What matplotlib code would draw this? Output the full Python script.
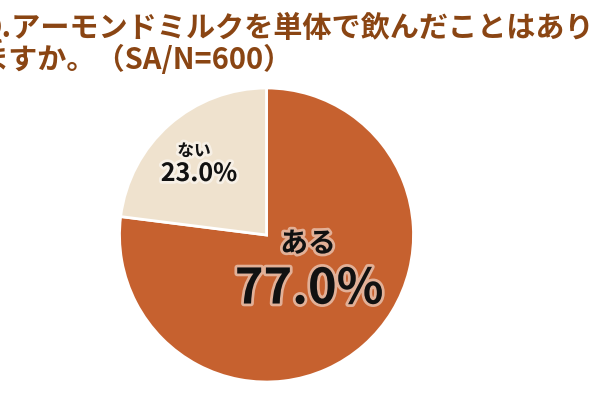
import matplotlib
matplotlib.use('Agg')
import matplotlib.pyplot as plt
import matplotlib.patheffects as pe

plt.rcParams['font.family'] = ['Noto Sans CJK JP', 'DejaVu Sans']

# data
labels = ['ある', 'ない']
values = [77.0, 23.0]
colors = ['#C6612F', '#EFE2CE']
title_lines = ['Q.アーモンドミルクを単体で飲んだことはあり',
               'ますか。（SA/N=600）']

W, H = 600, 400
fig = plt.figure(figsize=(6, 4), dpi=100)

# pie axes: center (266.5, 235) px, radius 147 px
cx, cy, r = 266.5, 235, 147
ax = fig.add_axes([(cx - r) / W, 1 - (cy + r) / H, 2 * r / W, 2 * r / H])
wedges, _ = ax.pie(values, colors=colors, startangle=90, counterclock=False,
                   radius=1.0, wedgeprops=dict(edgecolor='white', linewidth=2))
ax.set_xlim(-1, 1)
ax.set_ylim(-1, 1)
ax.set_aspect('equal')
ax.axis('off')

glow = [pe.withStroke(linewidth=4, foreground='white', alpha=0.5)]


def px(x, y):
    # figure pixel -> pie data coords
    return (x - cx) / r, (cy - y) / r


# label name / percent positions in pixels
name_xy = [(308, 244), (194, 151)]
pct_xy = [(309, 289), (199, 174)]
name_size = [20, 12]
pct_size = [35, 18]
for i, (lab, val) in enumerate(zip(labels, values)):
    ax.text(*px(*name_xy[i]), lab, ha='center', va='center', fontsize=name_size[i],
            fontweight='bold', color='#111111', path_effects=glow)
    ax.text(*px(*pct_xy[i]), f'{val:.1f}%', ha='center', va='center',
            fontsize=pct_size[i], fontweight='bold', color='#111111',
            path_effects=glow)

# title, clipped on the left like the reference
for k, line in enumerate(title_lines):
    fig.text(-21 / W, 1 - (27 + 32.5 * k) / H, line, ha='left', va='center',
             fontsize=21, fontweight='bold', color='#8A4513')

fig.savefig('out.png', dpi=100)
